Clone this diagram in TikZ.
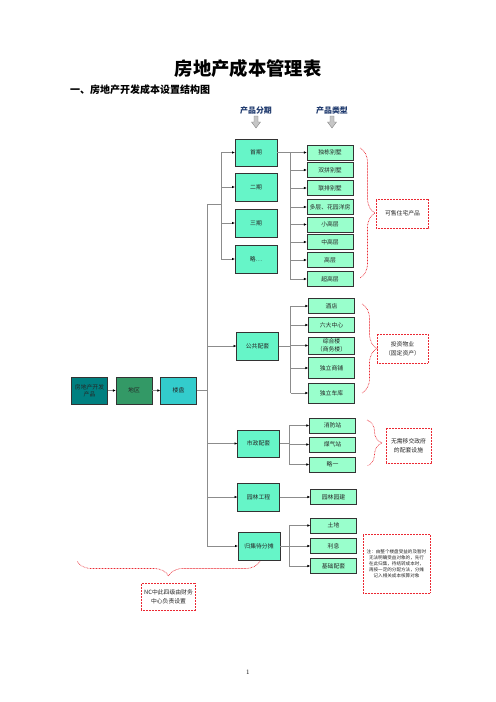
\documentclass[tikz,border=0pt]{standalone}
\usepackage{fontspec}
\newfontfamily\cjk{Noto Sans CJK SC}
\usetikzlibrary{arrows.meta,decorations.pathreplacing}
\definecolor{prodcol}{RGB}{0,128,128}
\definecolor{areacol}{RGB}{51,153,102}
\definecolor{estatecol}{RGB}{51,204,204}
\definecolor{phasecol}{RGB}{102,245,200}
\definecolor{typecol}{RGB}{153,255,204}
\definecolor{headcol}{RGB}{31,58,110}
\definecolor{linkcol}{RGB}{140,140,140}
\definecolor{notecol}{RGB}{235,40,50}

\begin{document}
\begin{tikzpicture}[x=1.2pt, y=-1.2pt]
    \tikzset{>={Latex[length=3.5pt,width=3pt,black]}}
    \tikzset{
      every node/.style={font=\cjk\fontsize{7}{8}\selectfont, text=black!85},
      box/.style={draw=gray!40!black, line width=0.6pt, inner sep=1pt, align=center},
      topbox/.style={box, minimum width=43pt, minimum height=32pt},
      phasebox/.style={box, fill=phasecol, minimum width=50pt, minimum height=33pt},
      typebox/.style={box, fill=typecol, minimum width=55pt, minimum height=18pt},
      link/.style={draw=linkcol, line width=0.6pt},
      label/.style={draw=notecol, densely dotted, line width=0.8pt, align=center, inner sep=1pt,
        font=\cjk\fontsize{7}{10.5}\selectfont},
      rbrace/.style={draw=notecol, densely dotted, line width=0.8pt, decorate,
        decoration={brace, amplitude=18pt}},
      headtext/.style={font=\cjk\bfseries\fontsize{9.5}{11}\selectfont, text=headcol},
    }
    \fill[white] (0,0) rectangle (496,702);
    \useasboundingbox (0,0) rectangle (496,702);

    \node[font=\cjk\bfseries\fontsize{22}{26}\selectfont, text=black] (title) at (248,69) {房地产成本管理表};
    \node[font=\cjk\bfseries\fontsize{12}{14}\selectfont, text=black, anchor=west, inner sep=0pt] (sub) at (70,90) {一、房地产开发成本设置结构图};
    \node[headtext] (hstage) at (256,111) {产品分期};
    \node[headtext] (htype) at (332,111) {产品类型};
    \foreach \x in {256,332}
      \filldraw[fill=gray!45, draw=gray] (\x-2,116) -- (\x+2,116) -- (\x+2,122) -- (\x+4.5,122)
        -- (\x,128) -- (\x-4.5,122) -- (\x-2,122) -- cycle;
    \node[font=\normalfont\fontsize{8}{10}\selectfont, text=black] (page) at (248,672) {1};

    \node[topbox, fill=prodcol] (prod) at (89.5,390.5) {房地产开发\\产品};
    \node[topbox, fill=areacol] (area) at (134,390.5) {地区};
    \node[topbox, fill=estatecol] (estate) at (178.5,390.5) {楼盘};

    \foreach \n/\y/\t in {p1/152.5/首期, p2/187/二期, p3/223/三期, p4/259/略…}
      \node[phasebox] (\n) at (256,\y) {\t};
    \node[phasebox] (pub) at (257.5,346) {公共配套};
    \node[phasebox] (muni) at (258.5,443.5) {市政配套};
    \node[phasebox] (park) at (258.5,497) {园林工程};
    \node[phasebox] (pool) at (259,546) {归集待分摊};

    \foreach \n/\y/\t in {t1/152.5/独栋别墅, t2/170/双拼别墅, t3/188/联排别墅, t4/207/多层、花园洋房,
        t5/224.5/小高层, t6/242/中高层, t7/260/高层, t8/279/超高层}
      \node[typebox] (\n) at (330,\y) {\t};
    \foreach \n/\y/\h/\t in {s1/306/18/酒店, s2/325/18/六大中心, s3/345.5/21/{综合楼\\（商务楼）},
        s4/368/25/独立商铺, s5/393/24/独立车库}
      \node[typebox, minimum height=\h pt, font=\cjk\fontsize{7}{9}\selectfont] (\n) at (331.5,\y) {\t};
    \foreach \n/\y/\t in {m1/425.5/消防站, m2/444.5/煤气站, m3/464.5/略一}
      \node[typebox] (\n) at (332.5,\y) {\t};
    \node[typebox] (g1) at (333.5,497) {园林园建};
    \foreach \n/\y/\t in {a1/525.5/土地, a2/546/利息, a3/566/基础配套}
      \node[typebox] (\n) at (333.5,\y) {\t};

    % trunk and forks
    \draw[link,->] (prod) -- (area);
    \draw[link,->] (area) -- (estate);
    \coordinate (trunk) at (207,204);
    \coordinate (fork) at (221,204);
    \draw[link] (estate) -- (trunk |- estate);
    \draw[link] (trunk) -- (trunk |- pool);
    \draw[link] (trunk) -- (fork);
    \draw[link] (fork |- p1) -- (fork |- p4);
    \foreach \n in {p1,p2,p3,p4} \draw[link,->] (fork |- \n) -- (\n);
    \foreach \n in {pub,muni,park,pool} \draw[link,->] (trunk |- \n) -- (\n);

    \coordinate (k1) at (290,152.5);
    \draw[link] (p1) -- (k1) -- (k1 |- t8);
    \foreach \i in {1,...,8} \draw[link,->] (k1 |- t\i) -- (t\i);
    \coordinate (k2) at (290.5,346);
    \draw[link] (pub) -- (k2);
    \draw[link] (k2 |- s1) -- (k2 |- s5);
    \foreach \i in {1,...,5} \draw[link,->] (k2 |- s\i) -- (s\i);
    \coordinate (k3) at (289,443.5);
    \draw[link] (muni) -- (k3);
    \draw[link] (k3 |- m1) -- (k3 |- m3);
    \foreach \i in {1,2,3} \draw[link,->] (k3 |- m\i) -- (m\i);
    \draw[link,->] (park) -- (g1);
    \coordinate (k5) at (289,546);
    \draw[link] (pool) -- (k5);
    \draw[link] (k5 |- a1) -- (k5 |- a3);
    \foreach \i in {1,2,3} \draw[link,->] (k5 |- a\i) -- (a\i);

    % red notes
    \draw[rbrace] (360,148) -- (360,278);
    \node[label, minimum width=63pt, minimum height=35pt] (sale) at (402.5,213.5) {可售住宅产品};
    \draw[rbrace] (362,304) -- (362,393);
    \node[label, minimum width=61pt, minimum height=35pt] (invest) at (402.5,348.5) {投资物业\\（固定资产）};
    \draw[rbrace] (367,420) -- (367,466);
    \node[label, minimum width=54pt, minimum height=42pt] (munitext) at (408.5,445.5) {无需移交政府\\的配套设施};
    \node[label, minimum width=80pt, minimum height=71pt, font=\cjk\fontsize{5.5}{7.2}\selectfont] (note) at (396.5,563.5)
      {注：由整个楼盘受益的及暂时\\无法明确受益对象的，先行\\在此归集，待结转成本时，\\再按一定的分配方法，分摊\\记入相关成本核算对象};
    \draw[rbrace] (260,561) -- (77,561);
    \node[label, minimum width=65pt, minimum height=33pt] (nc) at (168.5,597) {NC中此四级由财务\\中心负责设置};
\end{tikzpicture}
\end{document}
